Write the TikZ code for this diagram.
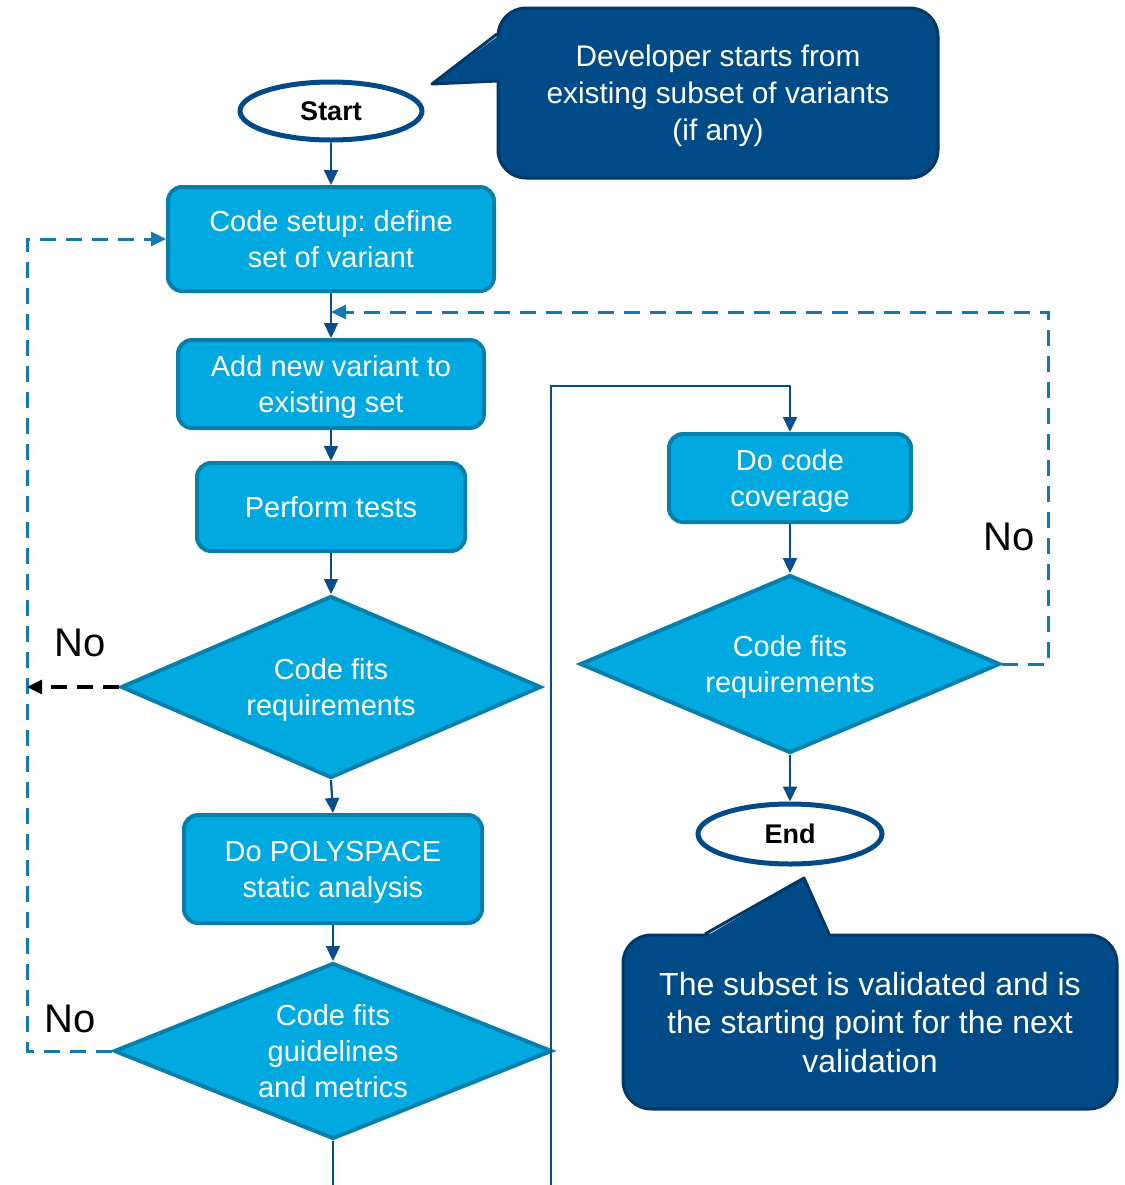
\documentclass[tikz,border=0pt]{standalone}
\usepackage{fontspec}
\setmainfont{Liberation Sans}
\usetikzlibrary{arrows.meta, positioning, calc, shapes.geometric}
\definecolor{Cyan}{HTML}{00A9DF}
\definecolor{CyanEdge}{HTML}{0580AD}
\definecolor{Navy}{HTML}{004B87}
\definecolor{NavyEdge}{HTML}{00386A}
\definecolor{FlowBlue}{HTML}{0A4D8C}
\definecolor{LoopBlue}{HTML}{1479B0}
\frenchspacing

\begin{document}
\begin{tikzpicture}[x=0.5pt, y=-0.5pt,
    stepbox/.style={rectangle, rounded corners=7pt, draw=CyanEdge, fill=Cyan, line width=2pt,
        text=white, align=center, inner sep=2pt, text depth=0pt, font=\fontsize{14.5}{18}\selectfont},
    choice/.style={diamond, draw=CyanEdge, fill=Cyan, line width=2pt, inner sep=0pt,
        text=white, align=center, text depth=0pt, font=\fontsize{14.5}{18}\selectfont},
    terminal/.style={ellipse, draw=Navy, fill=white, line width=2.5pt, inner sep=0pt,
        minimum width=91pt, minimum height=29pt, font=\fontsize{13.5}{16}\selectfont\bfseries},
    note/.style={rectangle, rounded corners=14pt, draw=NavyEdge, fill=Navy, line width=1.5pt,
        text=white, align=center, text depth=0pt},
    flow/.style={FlowBlue, line width=1.1pt, -{Triangle[length=7.5pt, width=7pt]}},
    loopline/.style={LoopBlue, line width=1.5pt, dash pattern=on 8pt off 5pt,
        -{Triangle[length=7.5pt, width=7pt]}},
    noline/.style={black, line width=1.6pt, dash pattern=on 8pt off 5pt,
        -{Triangle[length=7.5pt, width=7pt]}},
    nolbl/.style={font=\fontsize{20}{24}\selectfont}
]
\useasboundingbox (0,0) rectangle (1125,1185);

% =============================================
% LEFT: main chain
% =============================================
\node[terminal] (start) at (331,111) {Start};
\node[stepbox, minimum width=163pt, minimum height=52pt] (b1) at (331,239) {Code setup: define\\set of variant};
\node[stepbox, minimum width=153pt, minimum height=44pt] (b2) at (331,384) {Add new variant to\\existing set};
\node[stepbox, minimum width=134pt, minimum height=44pt] (b3) at (331,507) {Perform tests};
\node[choice, aspect=2.29, minimum width=210pt, minimum height=91pt] (d1) at (331,687) {Code fits\\requirements};
\node[stepbox, minimum width=149pt, minimum height=54pt] (b4) at (333,869) {Do POLYSPACE\\static analysis};
\node[choice, aspect=2.46, minimum width=219pt, minimum height=88pt] (d2) at (333,1051) {Code fits\\guidelines\\and metrics};

% =============================================
% RIGHT: coverage chain
% =============================================
\node[stepbox, minimum width=121pt, minimum height=44pt] (b5) at (790,478) {Do code\\coverage};
\node[choice, aspect=2.34, minimum width=210pt, minimum height=89pt] (d3) at (790,664) {Code fits\\requirements};
\node[terminal, minimum width=92pt, minimum height=30pt] (end) at (790,834) {End};

% free ends and corners
\coordinate (loopL) at (27,239);
\coordinate (loopR) at (1048,312);
\coordinate (exitA) at (333,1185);
\coordinate (exitB) at (551,1185);
\coordinate (turn) at (551,386);

% solid flow
\draw[flow] (start) -- (b1);
\draw[flow] (b1) -- (b2);
\draw[flow] (b2) -- (b3);
\draw[flow] (b3) -- (d1);
\draw[flow] (d1.south) -- (b4.north);
\draw[flow] (b4) -- (d2);
\draw[FlowBlue, line width=1.1pt] (d2.south) -- (exitA);
\draw[flow] (exitB) -- (turn) -| (b5.north);
\draw[flow] (b5) -- (d3);
\draw[flow] (d3) -- (end);

% dashed loops
\draw[loopline] (d2.west) -| (loopL) -- (b1.west);
\draw[noline] (d1.west) -- (d1.west -| loopL);
\draw[loopline] (d3.east) -| (loopR) -- (loopR -| b1.south);

\node[nolbl] (no1) at (80,643) {No};
\node[nolbl] (no2) at (70,1019) {No};
\node[nolbl] (no3) at (1009,537) {No};

% =============================================
% Callouts
% =============================================
\node[note, minimum width=220pt, minimum height=85pt, font=\fontsize{14.9}{18.5}\selectfont]
    (note1) at (718,93) {Developer starts from\\existing subset of variants\\(if any)};
\fill[Navy] (432,84) -- (501,34) -- (501,81) -- cycle;
\draw[NavyEdge, line width=1.5pt, line join=round] (497,34) -- (432,84) -- (497,81);

\node[note, minimum width=247pt, minimum height=87pt, font=\fontsize{16}{19.3}\selectfont]
    (note2) at (870,1022) {The subset is validated and is\\the starting point for the next\\validation};
\fill[Navy] (804,878) -- (705,937) -- (829,937) -- cycle;
\draw[NavyEdge, line width=1.5pt, line join=round] (705,934) -- (804,878) -- (829,934);

\end{tikzpicture}
\end{document}
